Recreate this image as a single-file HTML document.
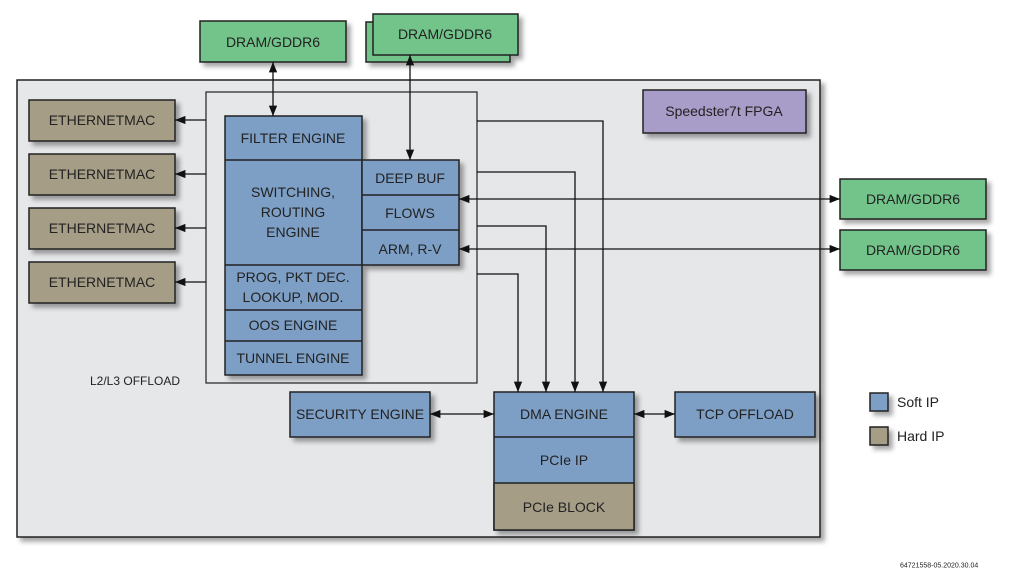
<!DOCTYPE html>
<html><head><style>
body{margin:0;background:#fff;}
svg{display:block;font-family:"Liberation Sans",sans-serif;}
text{fill:#222;font-size:14px;text-anchor:middle;dominant-baseline:central;}
</style></head><body>
<svg width="1013" height="585" viewBox="0 0 1013 585" xmlns="http://www.w3.org/2000/svg">
<defs>
<filter id="sh" x="-10%" y="-10%" width="130%" height="140%"><feDropShadow dx="4" dy="4" stdDeviation="2.5" flood-color="#000" flood-opacity="0.35"/></filter>
<marker id="a" viewBox="0 0 10 10" refX="10" refY="5" markerWidth="8" markerHeight="8" orient="auto-start-reverse"><path d="M0,1 L10,5 L0,9 z" fill="#111"/></marker>
</defs>
<g stroke="#222" stroke-width="1.5">
<rect x="17" y="80" width="803" height="457" fill="#e6e7e9" filter="url(#sh)"/>
<rect x="206" y="92" width="271" height="291" fill="#e6e7e9" stroke-width="1.2"/>
</g>
<g stroke="#222" stroke-width="1.5" filter="url(#sh)">
<rect x="200" y="21" width="146" height="41" fill="#72c48a"/>
<rect x="366" y="22" width="144" height="40" fill="#72c48a"/>
<rect x="373" y="14" width="145" height="41" fill="#72c48a"/>
<rect x="840" y="179" width="146" height="40" fill="#72c48a"/>
<rect x="840" y="230" width="146" height="40" fill="#72c48a"/>
<rect x="643" y="90" width="163" height="43" fill="#a89cc8"/>
<rect x="29" y="100" width="146" height="41" fill="#a59d86"/>
<rect x="29" y="154" width="146" height="41" fill="#a59d86"/>
<rect x="29" y="208" width="146" height="41" fill="#a59d86"/>
<rect x="29" y="262" width="146" height="41" fill="#a59d86"/>
<rect x="225" y="116" width="137" height="259" fill="#7d9fc6"/>
<rect x="362" y="160" width="97" height="105" fill="#7d9fc6"/>
<rect x="290" y="392" width="140" height="45" fill="#7d9fc6"/>
<rect x="675" y="392" width="140" height="45" fill="#7d9fc6"/>
<rect x="494" y="392" width="140" height="138" fill="#7d9fc6"/>
<rect x="870" y="393" width="18" height="18" fill="#7d9fc6"/>
<rect x="870" y="427" width="18" height="18" fill="#a59d86"/>
</g>
<g stroke="#222" stroke-width="1.5">
<rect x="494" y="483" width="140" height="47" fill="#a59d86"/>
<line x1="225" y1="160" x2="362" y2="160"/>
<line x1="225" y1="265" x2="362" y2="265"/>
<line x1="225" y1="310" x2="362" y2="310"/>
<line x1="225" y1="341" x2="362" y2="341"/>
<line x1="362" y1="195" x2="459" y2="195"/>
<line x1="362" y1="230" x2="459" y2="230"/>
<line x1="494" y1="437" x2="634" y2="437"/>
</g>
<g stroke="#111" stroke-width="1.3" fill="none">
<line x1="273" y1="62" x2="273" y2="116" marker-start="url(#a)" marker-end="url(#a)"/>
<line x1="410" y1="55" x2="410" y2="160" marker-start="url(#a)" marker-end="url(#a)"/>
<line x1="206" y1="120" x2="175" y2="120" marker-end="url(#a)"/>
<line x1="206" y1="174" x2="175" y2="174" marker-end="url(#a)"/>
<line x1="206" y1="228" x2="175" y2="228" marker-end="url(#a)"/>
<line x1="206" y1="282" x2="175" y2="282" marker-end="url(#a)"/>
<line x1="459" y1="199" x2="840" y2="199" marker-start="url(#a)" marker-end="url(#a)"/>
<line x1="459" y1="249" x2="840" y2="249" marker-start="url(#a)" marker-end="url(#a)"/>
<polyline points="477,121 603,121 603,392" marker-end="url(#a)"/>
<polyline points="477,172 575,172 575,392" marker-end="url(#a)"/>
<polyline points="477,226 546,226 546,392" marker-end="url(#a)"/>
<polyline points="477,274 518,274 518,392" marker-end="url(#a)"/>
<line x1="430" y1="414" x2="494" y2="414" marker-start="url(#a)" marker-end="url(#a)"/>
<line x1="634" y1="414" x2="675" y2="414" marker-start="url(#a)" marker-end="url(#a)"/>
</g>
<text x="273" y="42">DRAM/GDDR6</text>
<text x="445" y="34">DRAM/GDDR6</text>
<text x="913" y="199">DRAM/GDDR6</text>
<text x="913" y="250">DRAM/GDDR6</text>
<text x="724" y="111">Speedster7t FPGA</text>
<text x="102" y="120">ETHERNETMAC</text>
<text x="102" y="174">ETHERNETMAC</text>
<text x="102" y="228">ETHERNETMAC</text>
<text x="102" y="282">ETHERNETMAC</text>
<text x="293" y="138">FILTER ENGINE</text>
<text x="293" y="192">SWITCHING,</text>
<text x="293" y="212">ROUTING</text>
<text x="293" y="232">ENGINE</text>
<text x="293" y="277">PROG, PKT DEC.</text>
<text x="293" y="297">LOOKUP, MOD.</text>
<text x="293" y="325">OOS ENGINE</text>
<text x="293" y="358">TUNNEL ENGINE</text>
<text x="410" y="178">DEEP BUF</text>
<text x="410" y="213">FLOWS</text>
<text x="410" y="249">ARM, R-V</text>
<text x="360" y="414">SECURITY ENGINE</text>
<text x="564" y="414">DMA ENGINE</text>
<text x="564" y="460">PCIe IP</text>
<text x="564" y="507">PCIe BLOCK</text>
<text x="745" y="414">TCP OFFLOAD</text>
<text x="90" y="381" style="text-anchor:start;font-size:12px">L2/L3 OFFLOAD</text>
<text x="897" y="402" style="text-anchor:start">Soft IP</text>
<text x="897" y="436" style="text-anchor:start">Hard IP</text>
<text x="900" y="566" style="text-anchor:start;font-size:7px">64721558-05.2020.30.04</text>
</svg>
</body></html>
